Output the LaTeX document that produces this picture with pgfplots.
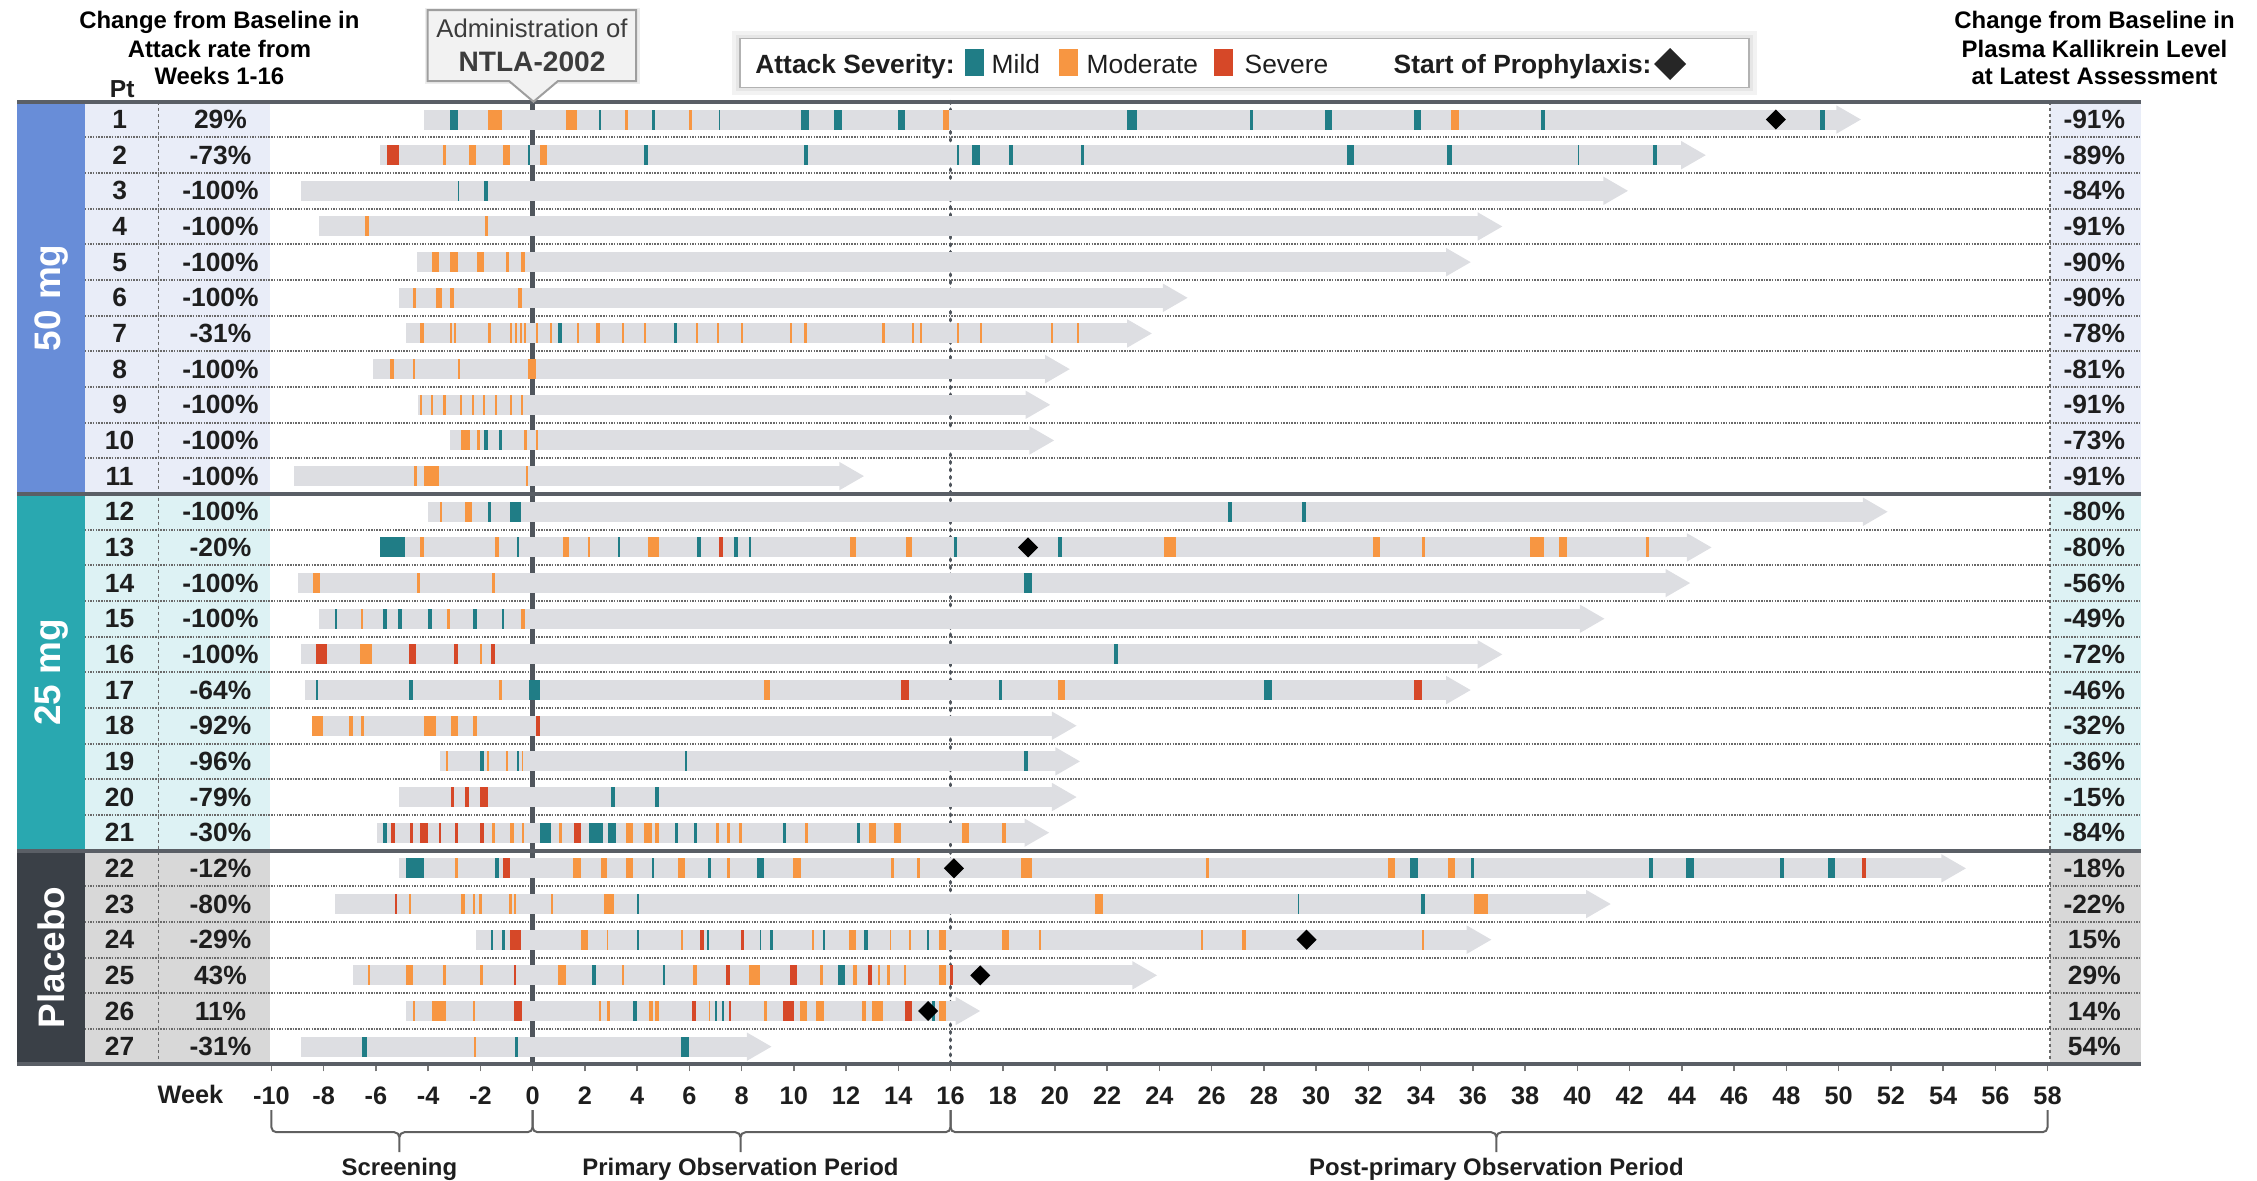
\documentclass[border=0pt]{standalone}
\usepackage{fontspec}
\setmainfont{Liberation Sans}
\usepackage{pgfplots}
\usepackage{pgfplotstable}
\pgfplotsset{compat=1.18}

\definecolor{mild}{RGB}{32,125,134}
\definecolor{moder}{RGB}{247,150,66}
\definecolor{sev}{RGB}{214,72,40}
\definecolor{barfill}{RGB}{221,222,226}
\definecolor{bandA}{RGB}{104,141,216}
\definecolor{bandB}{RGB}{41,168,176}
\definecolor{bandC}{RGB}{58,64,71}
\definecolor{bgA}{RGB}{233,237,248}
\definecolor{bgB}{RGB}{221,242,244}
\definecolor{bgC}{RGB}{216,216,216}
\definecolor{linec}{RGB}{80,86,93}
\definecolor{sepc}{RGB}{90,95,102}
\definecolor{dotc}{RGB}{105,105,105}
\definecolor{tickc}{RGB}{120,120,120}
\definecolor{txt}{RGB}{30,30,30}
\definecolor{calltxt}{RGB}{60,60,60}

\newcommand\fs[2]{\fontsize{#1}{#2}\selectfont}

\pgfplotsset{
  evt/.style={only marks, mark=text, text mark={}, mark options={opacity=0},
    error bars/.cd, x dir=both, x explicit,
    error mark=none, error bar style={line width=0.2cm, draw=#1, solid}},
  lab/.style={only marks, mark=none, point meta=explicit symbolic,
    nodes near coords={#1},
    every node near coord/.append style={anchor=center, font=\bfseries\fs{7.5}{9}, text=txt, inner sep=0pt}},
}

\pgfplotstableread{
r s e
1 -4.15 49.94
2 -5.84 44.0
3 -8.85 41.02
4 -8.16 36.21
5 -4.42 35.0
6 -5.13 24.16
7 -4.85 22.79
8 -6.12 19.65
9 -4.4 18.9
10 -3.16 19.05
11 -9.13 11.77
12 -3.99 50.96
13 -5.84 44.22
14 -8.98 43.4
15 -8.16 40.12
16 -8.85 36.21
17 -8.7 35.0
18 -8.42 19.91
19 -3.54 20.04
20 -5.13 19.91
21 -5.95 18.86
22 -5.11 53.96
23 -7.56 40.36
24 -2.15 35.79
25 -6.87 22.99
26 -4.83 16.22
27 -8.85 8.23
}\tabBars

\pgfplotstableread{
r x w
1 -3.0 0.3
1 2.58 0.06
1 4.64 0.12
1 7.15 0.06
1 10.42 0.3
1 11.7 0.3
1 14.13 0.28
1 22.95 0.4
1 27.52 0.12
1 30.47 0.28
1 33.89 0.28
1 38.67 0.15
1 49.38 0.18
2 -0.13 0.06
2 4.34 0.14
2 10.48 0.16
2 16.28 0.06
2 16.97 0.3
2 18.32 0.15
2 21.05 0.12
2 31.31 0.28
2 35.1 0.16
2 40.04 0.06
2 42.97 0.15
3 -2.84 0.06
3 -1.78 0.15
7 1.05 0.15
7 5.46 0.1
10 -1.78 0.13
10 -1.22 0.13
12 -1.65 0.14
12 -0.64 0.43
12 26.7 0.16
12 29.53 0.16
13 -5.37 0.97
13 -0.56 0.06
13 3.31 0.08
13 6.36 0.14
13 7.78 0.14
13 8.31 0.07
13 16.19 0.15
13 20.19 0.14
14 18.97 0.28
15 -7.54 0.06
15 -5.65 0.15
15 -5.07 0.15
15 -3.93 0.15
15 -2.21 0.15
15 -1.12 0.08
16 22.34 0.15
17 -8.25 0.06
17 -4.64 0.15
17 0.06 0.43
17 17.91 0.14
17 28.17 0.3
19 -1.93 0.16
19 -0.56 0.06
19 5.86 0.07
19 18.9 0.14
20 3.07 0.14
20 4.77 0.14
21 -5.65 0.13
21 0.49 0.43
21 2.43 0.56
21 3.03 0.3
21 5.52 0.13
21 6.23 0.13
21 9.66 0.12
21 12.48 0.14
22 -4.51 0.69
22 -1.37 0.15
22 4.6 0.07
22 6.77 0.14
22 8.72 0.28
22 33.74 0.28
22 35.98 0.14
22 42.82 0.13
22 44.31 0.28
22 47.83 0.14
22 49.74 0.28
23 4.02 0.07
23 29.32 0.06
23 34.09 0.14
23 40.36 0.1
24 -1.55 0.07
24 -1.12 0.1
24 4.02 0.07
24 6.7 0.07
24 8.72 0.06
24 9.15 0.1
24 11.17 0.07
24 12.76 0.15
24 15.14 0.06
25 2.34 0.14
25 5.03 0.07
25 11.83 0.28
26 3.93 0.15
26 7.02 0.06
26 7.28 0.07
26 15.36 0.12
27 -6.44 0.2
27 -0.62 0.12
27 5.84 0.3
}\tabMild

\pgfplotstableread{
r x w
1 -1.44 0.56
1 1.5 0.43
1 3.61 0.12
1 6.06 0.12
1 15.83 0.22
1 35.31 0.28
2 -3.37 0.12
2 -2.3 0.27
2 -1.0 0.25
2 0.43 0.28
4 -6.34 0.13
4 -1.78 0.12
5 -3.72 0.3
5 -3.0 0.3
5 -2.0 0.28
5 -0.95 0.12
5 -0.37 0.12
6 -4.51 0.12
6 -3.59 0.25
6 -3.07 0.15
6 -0.49 0.14
7 -4.23 0.14
7 -3.11 0.07
7 -2.99 0.07
7 -1.65 0.14
7 -0.84 0.07
7 -0.62 0.07
7 -0.45 0.07
7 -0.3 0.07
7 0.17 0.07
7 0.71 0.07
7 1.74 0.07
7 2.49 0.15
7 3.46 0.08
7 4.3 0.07
7 6.29 0.07
7 7.09 0.07
7 8.01 0.1
7 9.88 0.07
7 10.44 0.1
7 13.44 0.1
7 14.58 0.08
7 14.86 0.08
7 16.3 0.07
7 17.18 0.07
7 19.87 0.07
7 20.88 0.07
8 -5.37 0.15
8 -4.53 0.08
8 -2.81 0.06
8 -0.02 0.28
9 -4.27 0.07
9 -3.84 0.07
9 -3.37 0.14
9 -2.73 0.07
9 -2.28 0.07
9 -1.85 0.07
9 -1.4 0.06
9 -0.84 0.08
9 -0.39 0.08
10 -2.56 0.35
10 -2.08 0.13
10 -0.26 0.12
10 0.17 0.06
11 -4.49 0.12
11 -3.87 0.56
11 -0.21 0.1
12 -3.5 0.1
12 -2.45 0.25
13 -4.23 0.13
13 -1.37 0.13
13 1.27 0.25
13 2.15 0.08
13 4.64 0.41
13 12.26 0.25
13 14.41 0.25
13 24.4 0.43
13 32.31 0.3
13 34.1 0.1
13 38.46 0.55
13 39.45 0.28
13 42.68 0.1
14 -8.27 0.28
14 -4.36 0.13
14 -1.5 0.13
15 -6.55 0.07
15 -3.22 0.15
15 -0.37 0.15
16 -6.38 0.43
16 -1.98 0.07
17 -1.22 0.12
17 8.98 0.25
17 20.25 0.25
18 -8.23 0.41
18 -6.94 0.14
18 -6.51 0.14
18 -3.93 0.43
18 -3.0 0.28
18 -2.21 0.14
19 -3.29 0.06
19 -1.72 0.06
19 -0.99 0.07
19 -0.39 0.06
21 -1.5 0.12
21 -0.79 0.14
21 -0.37 0.1
21 1.07 0.1
21 3.72 0.28
21 4.42 0.28
21 4.77 0.15
21 7.07 0.13
21 7.5 0.13
21 7.95 0.13
21 10.48 0.14
21 13.02 0.28
21 13.98 0.28
21 16.58 0.28
21 18.04 0.14
22 -2.92 0.13
22 1.7 0.28
22 2.73 0.25
22 3.72 0.28
22 5.71 0.25
22 7.5 0.13
22 10.12 0.28
22 13.77 0.1
22 14.78 0.1
22 18.92 0.41
22 25.83 0.12
22 32.88 0.25
22 35.17 0.25
23 -4.68 0.08
23 -2.66 0.14
23 -2.26 0.08
23 -1.98 0.12
23 -0.84 0.1
23 -0.69 0.06
23 0.73 0.07
23 2.92 0.41
23 21.69 0.28
23 36.31 0.55
24 1.98 0.25
24 2.86 0.06
24 5.71 0.06
24 10.74 0.06
24 12.26 0.28
24 13.7 0.07
24 14.45 0.07
24 15.7 0.28
24 18.1 0.25
24 19.44 0.07
24 25.63 0.06
24 27.24 0.14
24 34.07 0.07
25 -6.27 0.07
25 -4.72 0.28
25 -3.37 0.14
25 -1.95 0.14
25 1.12 0.28
25 3.46 0.07
25 6.23 0.15
25 8.5 0.41
25 11.06 0.1
25 12.35 0.13
25 13.27 0.06
25 13.62 0.12
25 14.24 0.07
25 15.7 0.28
26 -4.55 0.07
26 -3.59 0.56
26 -2.26 0.07
26 2.58 0.06
26 2.9 0.14
26 4.55 0.15
26 4.75 0.15
26 6.77 0.07
26 8.91 0.12
26 10.37 0.25
26 11.0 0.28
26 12.7 0.14
26 13.19 0.43
26 15.7 0.28
27 -2.21 0.07
}\tabMod

\pgfplotstableread{
r x w
2 -5.35 0.47
13 7.22 0.14
16 -8.08 0.41
16 -4.6 0.28
16 -2.92 0.15
16 -1.5 0.15
17 14.26 0.28
17 33.89 0.3
18 0.21 0.14
20 -3.07 0.14
20 -2.51 0.12
20 -1.87 0.3
21 -5.35 0.14
21 -4.64 0.14
21 -4.15 0.3
21 -3.54 0.06
21 -2.92 0.14
21 -1.93 0.14
21 1.72 0.3
22 -1.0 0.28
22 50.97 0.13
23 -5.24 0.06
24 -0.64 0.43
24 6.49 0.14
24 8.05 0.12
25 -0.69 0.06
25 7.47 0.14
25 9.99 0.3
25 12.91 0.13
25 16.04 0.13
26 -0.56 0.28
26 6.19 0.15
26 7.56 0.06
26 9.79 0.41
26 14.39 0.28
}\tabSev

\pgfplotstableread{
r x
1 47.6
13 18.97
22 16.13
24 29.63
25 17.14
26 15.14
}\tabProph

\pgfplotstableread{
r a k
1 29 -91
2 -73 -89
3 -100 -84
4 -100 -91
5 -100 -90
6 -100 -90
7 -31 -78
8 -100 -81
9 -100 -91
10 -100 -73
11 -100 -91
12 -100 -80
13 -20 -80
14 -100 -56
15 -100 -49
16 -100 -72
17 -64 -46
18 -92 -32
19 -96 -36
20 -79 -15
21 -30 -84
22 -12 -18
23 -80 -22
24 -29 15
25 43 29
26 11 14
27 -31 54
}\tabLab

\begin{document}
\begin{tikzpicture}
\useasboundingbox (0,0) rectangle (22.57,-11.80);
\begin{axis}[
  at={(0.1725cm,-1.0167cm)}, anchor=north west,
  scale only axis, width=21.238cm, height=9.628cm,
  xmin=-19.73, xmax=61.58, ymin=-27.5, ymax=-0.5,
  clip=false,
  axis line style={draw=none},
  ytick=\empty,
  xtick={-10,-8,...,58},
  xticklabels={-10,-8,-6,-4,-2,0,2,4,6,8,10,12,14,16,18,20,22,24,26,28,30,32,34,36,38,40,42,44,46,48,50,52,54,56,58},
  xtick pos=left,
  tick align=outside,
  major tick length=0.07cm,
  tick style={draw=tickc, line width=0.015cm},
  xticklabel style={anchor=base, yshift=-0.33cm, font=\bfseries\fs{7.2}{8}, text=txt},
]
% column backgrounds
\fill[bgA] (-17.14,-0.5) rectangle (-10.05,-11.5);
\fill[bgB] (-17.14,-11.5) rectangle (-10.05,-21.5);
\fill[bgC] (-17.14,-21.5) rectangle (-10.05,-27.5);
\fill[bgA] (58.09,-0.5) rectangle (61.58,-11.5);
\fill[bgB] (58.09,-11.5) rectangle (61.58,-21.5);
\fill[bgC] (58.09,-21.5) rectangle (61.58,-27.5);
\fill[bandA] (-19.73,-0.5) rectangle (-17.14,-11.5);
\fill[bandB] (-19.73,-11.5) rectangle (-17.14,-21.5);
\fill[bandC] (-19.73,-21.5) rectangle (-17.14,-27.5);
% row separators
\pgfplotsinvokeforeach{1.5,2.5,3.5,4.5,5.5,6.5,7.5,8.5,9.5,10.5,12.5,13.5,14.5,15.5,16.5,17.5,18.5,19.5,20.5,22.5,23.5,24.5,25.5,26.5}{
  \draw[dotc, line width=0.02cm, dash pattern=on 0.015cm off 0.012cm] (-17.14,-#1) -- (61.58,-#1);
}
\draw[dotc, line width=0.015cm, dash pattern=on 0.03cm off 0.03cm] (-14.32,-0.5) -- (-14.32,-27.5);
\draw[dotc, line width=0.015cm, dash pattern=on 0.03cm off 0.03cm] (58.09,-0.5) -- (58.09,-27.5);
% week 0 and 16 lines
\draw[linec, line width=0.045cm] (0,-0.5) -- (0,-27.5);
\draw[linec, line width=0.035cm, line cap=round, dash pattern=on 0.015cm off 0.06cm] (16,-0.5) -- (16,-27.5);

% patient timelines
\addplot[evt=barfill] table[x expr=(\thisrow{s}+\thisrow{e})/2, y expr=-\thisrow{r}, x error expr=(\thisrow{e}-\thisrow{s})/2] {\tabBars};
\addplot[only marks, mark=triangle*, mark size=0.15cm, mark options={rotate=-90, fill=barfill, draw=barfill}] table[x expr=\thisrow{e}+0.287, y expr=-\thisrow{r}] {\tabBars};

% attacks
\addplot[evt=moder] table[x=x, y expr=-\thisrow{r}, x error expr=\thisrow{w}/2] {\tabMod};
\addplot[evt=mild] table[x=x, y expr=-\thisrow{r}, x error expr=\thisrow{w}/2] {\tabMild};
\addplot[evt=sev] table[x=x, y expr=-\thisrow{r}, x error expr=\thisrow{w}/2] {\tabSev};

% start of prophylaxis
\addplot[only marks, mark=square*, mark size=0.064cm, mark options={rotate=45, fill=black, draw=black}] table[x=x, y expr=-\thisrow{r}] {\tabProph};

% labels
\addplot[lab={\pgfplotspointmeta}] table[x expr=-15.81, y expr=-\thisrow{r}, meta=r] {\tabLab};
\addplot[lab={\pgfplotspointmeta\%}] table[x expr=-11.95, y expr=-\thisrow{r}, meta=a] {\tabLab};
\addplot[lab={\pgfplotspointmeta\%}] table[x expr=59.79, y expr=-\thisrow{r}, meta=k] {\tabLab};

% group separators
\draw[sepc, line width=0.04cm] (-19.73,-0.5) -- (61.58,-0.5);
\draw[sepc, line width=0.04cm] (-19.73,-11.5) -- (61.58,-11.5);
\draw[sepc, line width=0.04cm] (-19.73,-21.5) -- (61.58,-21.5);
\draw[sepc, line width=0.04cm] (-19.73,-27.5) -- (61.58,-27.5);

% group labels
\node[rotate=90, text=white, font=\bfseries\fs{10.5}{12}] at (-18.43,-6) {50 mg};
\node[rotate=90, text=white, font=\bfseries\fs{10.5}{12}] at (-18.43,-16.5) {25 mg};
\node[rotate=90, text=white, font=\bfseries\fs{10.5}{12}] at (-18.43,-24.5) {Placebo};

% week label
\node[anchor=base, font=\bfseries\fs{7.2}{8}, text=txt] at (-13.1,-28.6) {Week};

% period brackets
\draw[tickc!80!black, line width=0.02cm, rounded corners=0.05cm] (-10,-28.78) -- (-10,-29.40) -- (-5.1,-29.40) -- (-5.1,-30.04) -- (-5.1,-29.40) -- (0,-29.40) -- (0,-28.78);
\draw[tickc!80!black, line width=0.02cm, rounded corners=0.05cm] (0,-28.78) -- (0,-29.40) -- (7.96,-29.40) -- (7.96,-30.04) -- (7.96,-29.40) -- (16,-29.40) -- (16,-28.78);
\draw[tickc!80!black, line width=0.02cm, rounded corners=0.05cm] (16,-28.78) -- (16,-29.40) -- (36.9,-29.40) -- (36.9,-30.04) -- (36.9,-29.40) -- (58,-29.40) -- (58,-28.78);
\node[anchor=base, font=\bfseries\fs{6.8}{8}, text=txt] at (-5.1,-30.62) {Screening};
\node[anchor=base, font=\bfseries\fs{6.8}{8}, text=txt] at (7.96,-30.62) {Primary Observation Period};
\node[anchor=base, font=\bfseries\fs{6.8}{8}, text=txt] at (36.9,-30.62) {Post-primary Observation Period};
\end{axis}

% column headers
\node[anchor=base, font=\bfseries\fs{6.8}{8}, text=black] at (2.194,-0.286) {Change from Baseline in};
\node[anchor=base, font=\bfseries\fs{6.8}{8}, text=black] at (2.194,-0.574) {Attack rate from};
\node[anchor=base, font=\bfseries\fs{6.8}{8}, text=black] at (2.194,-0.846) {Weeks 1-16};
\node[anchor=base, font=\bfseries\fs{7}{8}, text=txt] at (1.223,-0.97) {Pt};
\node[anchor=base, font=\bfseries\fs{6.8}{8}, text=black] at (20.945,-0.286) {Change from Baseline in};
\node[anchor=base, font=\bfseries\fs{6.8}{8}, text=black] at (20.945,-0.574) {Plasma Kallikrein Level};
\node[anchor=base, font=\bfseries\fs{6.8}{8}, text=black] at (20.945,-0.846) {at Latest Assessment};

% callout
\fill[black, opacity=0.07] (4.25,-0.08) rectangle (6.40,-0.84);
\filldraw[fill=white!95!black, draw=black!38, line width=0.02cm] (4.277,-0.10) -- (6.362,-0.10) -- (6.362,-0.81) -- (5.58,-0.81) -- (5.335,-1.017) -- (5.09,-0.81) -- (4.277,-0.81) -- cycle;
\node[anchor=base, font=\fs{7.3}{8}, text=calltxt] at (5.32,-0.372) {Administration of};
\node[anchor=base, font=\bfseries\fs{8}{9}, text=calltxt] at (5.32,-0.717) {NTLA-2002};

% legend
\fill[black, opacity=0.05] (7.32,-0.31) rectangle (17.57,-0.95);
\fill[black, opacity=0.05] (7.36,-0.35) rectangle (17.53,-0.91);
\filldraw[fill=white, draw=black!30, line width=0.015cm] (7.40,-0.383) rectangle (17.49,-0.873);
\node[anchor=base west, inner sep=0pt, font=\bfseries\fs{7.5}{9}, text=txt] at (7.547,-0.73) {Attack Severity:};
\fill[mild] (9.646,-0.493) rectangle (9.842,-0.76);
\node[anchor=base west, inner sep=0pt, font=\fs{7.5}{9}, text=txt] at (9.91,-0.73) {Mild};
\fill[moder] (10.586,-0.493) rectangle (10.775,-0.76);
\node[anchor=base west, inner sep=0pt, font=\fs{7.5}{9}, text=txt] at (10.86,-0.73) {Moderate};
\fill[sev] (12.14,-0.493) rectangle (12.33,-0.76);
\node[anchor=base west, inner sep=0pt, font=\fs{7.5}{9}, text=txt] at (12.44,-0.73) {Severe};
\node[anchor=base west, inner sep=0pt, font=\bfseries\fs{7.5}{9}, text=txt] at (13.93,-0.73) {Start of Prophylaxis:};
\fill[black!85] (16.70,-0.48) -- (16.86,-0.64) -- (16.70,-0.80) -- (16.54,-0.64) -- cycle;
\end{tikzpicture}
\end{document}
